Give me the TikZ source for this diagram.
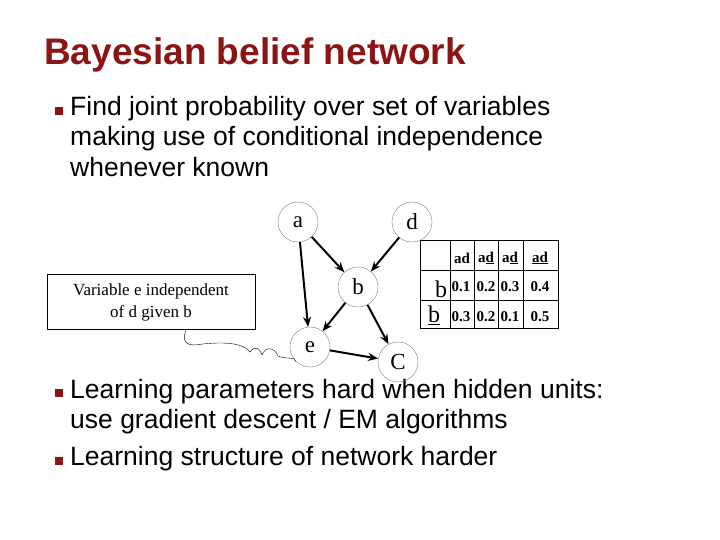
\documentclass[tikz,border=0pt]{standalone}
\usepackage{fontspec}
\setmainfont{Liberation Sans}
\newfontfamily\tnr{Liberation Serif}
\usetikzlibrary{arrows.meta,decorations.pathmorphing}
\definecolor{tred}{RGB}{140,20,20}
\begin{document}
\begin{tikzpicture}[x=1pt,y=-1pt,
  vnode/.style={circle,draw=black!50,minimum size=40pt,inner sep=0pt,font=\tnr\fontsize{23}{24}\selectfont},
  edge/.style={line width=2pt,-{Stealth[length=10pt,width=8pt]}},
  bul/.style={fill=tred,minimum size=8pt,inner sep=0pt},
  body/.style={anchor=north west,align=left,font=\fontsize{26.5}{30.5}\selectfont,inner sep=0pt},
  cell/.style={font=\tnr\bfseries\fontsize{15}{16}\selectfont,inner sep=0pt}]
\useasboundingbox (0,0) rectangle (720,540);
\node[anchor=west,text=tred,font=\bfseries\fontsize{37}{40}\selectfont,inner sep=0pt] (title) at (44,55) {Bayesian belief network};
\node[bul] (b1) at (59,111) {};
\node[body] (t1) at (70,96) {Find joint probability over set of variables\\making use of conditional independence\\whenever known};
\node[bul] (b2) at (59,393) {};
\node[body] (t2) at (70,379) {Learning parameters hard when hidden units:\\use gradient descent / EM algorithms};
\node[bul] (b3) at (59,461) {};
\node[body] (t3) at (70,446) {Learning structure of network harder};
\node[vnode] (a) at (298,222) {a};
\node[vnode] (d) at (412,222) {d};
\node[vnode] (b) at (358,287) {b};
\node[vnode] (e) at (310,347) {e};
\node[vnode] (c) at (398,362) {C};
\draw[edge] (a) -- (b);
\draw[edge] (d) -- (b);
\draw[edge] (a) -- (e);
\draw[edge] (b) -- (e);
\draw[edge] (b) -- (c);
\draw[edge] (e) -- (c);
% callout
\node[draw,minimum width=208pt,minimum height=55pt,align=center,font=\tnr\fontsize{17}{22}\selectfont,inner sep=0pt] (call) at (151,302) {Variable e independent\\of d given b};
\coordinate (q1) at (186,330);
\coordinate (q2) at (195,345);
\draw[thin] (q1) .. controls (182,340) and (185,345) .. (q2) .. controls (230,340) and (245,345) .. (250,352)
  .. controls (255,345) and (260,348) .. (262,355) .. controls (266,345) and (275,348) .. (278,356)
  .. controls (288,360) and (295,356) .. (e.225);
% table
\node[draw,minimum width=138pt,minimum height=88pt,inner sep=0pt] (tab) at (489,284) {};
\foreach \x in {450,474,498,523} \draw (\x,240) -- (\x,328);
\foreach \y in {270,300} \draw (420,\y) -- (558,\y);
\foreach \x/\t in {462/ad,486/a\underline{d},510/a\underline{d},540/\underline{ad}}
  \node[cell] (h\x) at (\x,258) {\t};
\node[font=\tnr\fontsize{24}{24}\selectfont,inner sep=0pt] (rb) at (441,289) {b};
\node[font=\tnr\fontsize{24}{24}\selectfont,inner sep=0pt] (rnb) at (434,315) {\underline{b}};
\foreach \x/\t in {461/0.1,486/0.2,510/0.3,540/0.4} \node[cell] (r1\x) at (\x,287) {\t};
\foreach \x/\t in {461/0.3,486/0.2,510/0.1,540/0.5} \node[cell] (r2\x) at (\x,317) {\t};
\end{tikzpicture}
\end{document}
